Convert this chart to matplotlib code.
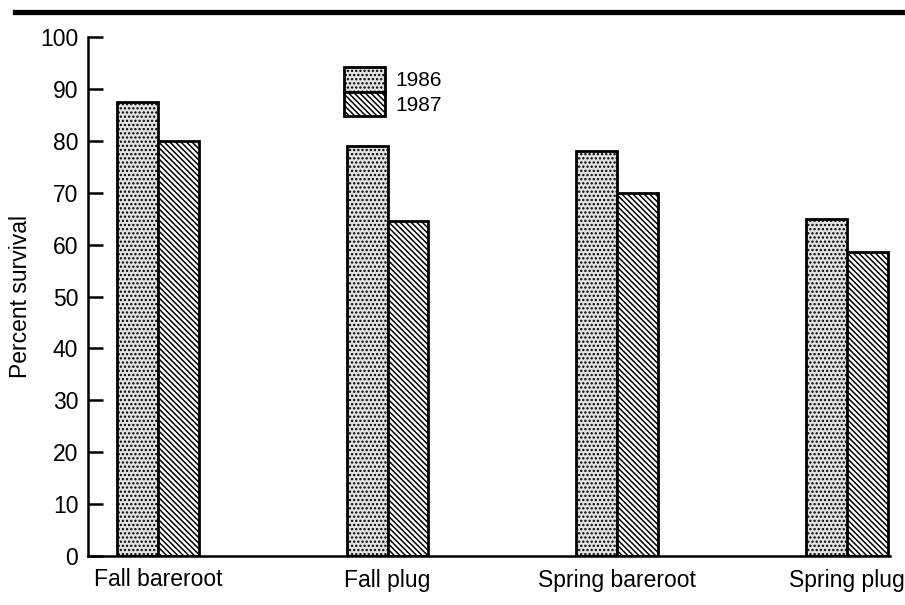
import matplotlib
matplotlib.use("Agg")
import matplotlib.pyplot as plt
from matplotlib.lines import Line2D
import numpy as np

plt.rcParams['font.family'] = ['Liberation Sans', 'DejaVu Sans']
plt.rcParams['hatch.linewidth'] = 1.1

# data
groups = ["Fall bareroot", "Fall plug", "Spring bareroot", "Spring plug"]
years = ["1986", "1987"]
surv_1986 = [87.5, 79, 78, 65]
surv_1987 = [80, 64.5, 70, 58.5]
yticks = [0, 10, 20, 30, 40, 50, 60, 70, 80, 90, 100]

fig = plt.figure(figsize=(9.05, 6.05), dpi=100)
ax = fig.add_axes([88/905, 49/605, 802/905, 519/605])

x = np.arange(len(groups))
w = 0.178
ax.bar(x - w/2, surv_1986, w, facecolor='#e2e2e2', edgecolor='black',
       linewidth=2, hatch='....', label=years[0])
ax.bar(x + w/2, surv_1987, w, facecolor='white', edgecolor='black',
       linewidth=2, hatch='\\\\\\\\\\\\', label=years[1])

ax.set_xlim(-0.304, 3.187)
ax.set_ylim(0, 100)
ax.set_yticks(yticks)
ax.set_xticks(x)
ax.set_xticklabels(groups, fontsize=16.5)
ax.tick_params(axis='y', direction='in', length=11, width=1.8, pad=7, labelsize=16.5)
ax.tick_params(axis='x', length=0, pad=9)

for s in ['top', 'right']:
    ax.spines[s].set_visible(False)
for s in ['left', 'bottom']:
    ax.spines[s].set_linewidth(1.8)

ax.set_ylabel("Percent survival", fontsize=16.5, labelpad=6)

ax.legend(loc='upper left', bbox_to_anchor=(344/905, 1 - 67/605),
          bbox_transform=fig.transFigure, frameon=False, fontsize=15,
          handlelength=1.97, handleheight=1.45, labelspacing=0,
          handletextpad=0.5, borderpad=0, borderaxespad=0)

# heavy rule across the top of the page
fig.add_artist(Line2D([15/905, 1.0], [1 - 12/605, 1 - 12/605],
                      color='black', linewidth=3.8, transform=fig.transFigure))

fig.savefig("out.png", dpi=100)
